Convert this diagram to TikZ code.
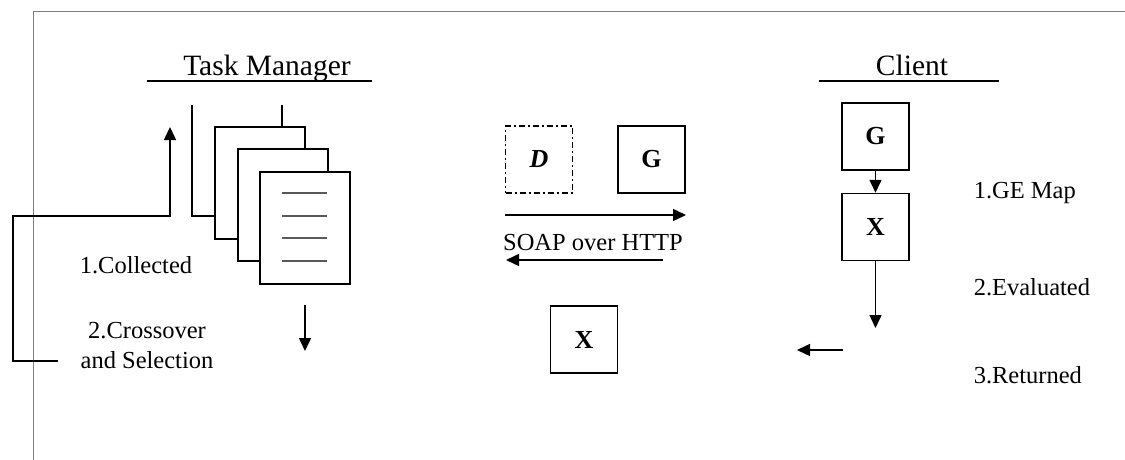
\documentclass[tikz,border=0pt]{standalone}
\usepackage{fontspec}
\setmainfont{Liberation Serif}
\usetikzlibrary{arrows.meta}
\begin{document}
\begin{tikzpicture}[x=1pt,y=-1pt, line width=1.5pt,
  tip/.style={-{Triangle[length=13pt,width=12pt]}},
  lbl/.style={font=\fontsize{24.5}{30}\selectfont, inner sep=0pt, anchor=base},
  lbll/.style={font=\fontsize{24.5}{30}\selectfont, inner sep=0pt, anchor=base west},
  head/.style={font=\fontsize{29.5}{32}\selectfont, inner sep=0pt, anchor=base},
  sq/.style={draw, minimum width=67pt, minimum height=67pt, inner sep=0pt, font=\fontsize{26}{28}\selectfont\bfseries},
  sheet/.style={draw, fill=white, minimum width=90pt, minimum height=112pt, anchor=north west, inner sep=0pt},
  rule/.style={line width=1.3pt, color=black!65}]
\useasboundingbox (0,0) rectangle (1125,460);
\fill[white] (0,0) rectangle (1125,460);
% frame
\draw[color=black!50, line width=1pt] (33,460) -- (33,12) -- (1125,12);

% headings
\node[head] (tmh) at (267,75) {Task Manager};
\draw[line width=1.2pt] (147,81) -- (372,81);
\node[head] (clh) at (912,75) {Client};
\draw[line width=1.2pt] (819,81) -- (999,81);

% stack of sheets
\draw (192,105) -- (192,216) -- (282,216) -- (282,105);
\node[sheet] (s2) at (214,126) {};
\node[sheet] (s3) at (237,148) {};
\node[sheet] (s4) at (259,171) {};
\foreach \yy in {193,216,238,261} \draw[rule] (282,\yy) -- (327,\yy);

% feedback loop
\coordinate (fb0) at (58,361);
\coordinate (fb1) at (13,361);
\coordinate (fb2) at (13,216);
\coordinate (fb3) at (170,216);
\coordinate (fb4) at (170,127);
\draw[tip] (fb0) -- (fb1) -- (fb2) -- (fb3) -- (fb4);

\node[lbl] (col) at (136,273) {1.Collected};
\node[lbl, align=center] (cro) at (147,368) {2.Crossover\\and Selection};

% down arrow under stack
\coordinate (da0) at (305,305);
\coordinate (da1) at (305,351);
\draw[tip] (da0) -- (da1);

% middle
\node[sq, dash pattern=on 6pt off 3pt on 2pt off 3pt] (D) at (539,159.5) {\itshape D};
\node[sq] (Gm) at (651.5,159.5) {G};
\node[sq] (Xm) at (584,339.5) {X};
\coordinate (ra0) at (505,215);
\coordinate (ra1) at (686,215);
\draw[tip] (ra0) -- (ra1);
\node[lbl] (soap) at (593,250) {SOAP over HTTP};
\coordinate (la0) at (663,260);
\coordinate (la1) at (506,260);
\draw[tip] (la0) -- (la1);

% client
\node[sq] (Gc) at (875.5,136.5) {G};
\node[sq] (Xc) at (875.5,227) {X};
\draw[tip] (Gc.south) -- (Xc.north);
\coordinate (ev) at (875.5,328);
\draw[tip] (Xc.south) -- (ev);
\coordinate (rt0) at (843,350);
\coordinate (rt1) at (797,350);
\draw[tip] (rt0) -- (rt1);

\node[lbll] (ge) at (973,198) {1.GE Map};
\node[lbll] (eva) at (973,295) {2.Evaluated};
\node[lbll] (ret) at (973,383) {3.Returned};
\end{tikzpicture}
\end{document}
